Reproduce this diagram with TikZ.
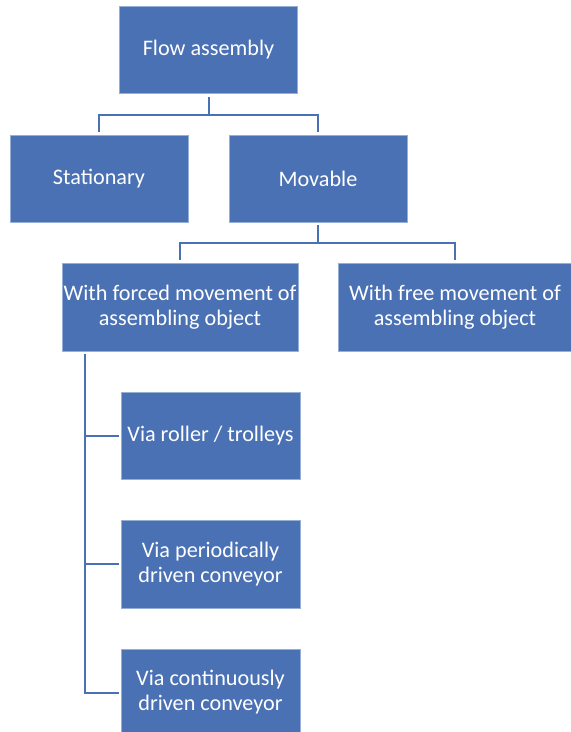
\documentclass[tikz,border=0pt]{standalone}
\usepackage{fontspec}
\setmainfont{Carlito}
\definecolor{boxblue}{RGB}{74,113,180}
\definecolor{boxedge}{RGB}{150,175,215}
\begin{document}
\begin{tikzpicture}[x=1pt,y=-1pt,
  box/.style={rectangle, fill=boxblue, draw=boxedge, line width=0.6pt,
    text=white, align=center, inner sep=0pt,
    font=\fontsize{22.2}{25}\selectfont},
  conn/.style={draw=boxblue, line width=2pt}]
  \useasboundingbox (0,0) rectangle (571,732);
  \begin{scope}
  \clip (0,0) rectangle (571,732);
  % tree nodes
  \node[box, minimum width=178pt, minimum height=87pt] (flow) at (208.5,50) {Flow assembly};
  \node[box, minimum width=178pt, minimum height=87pt] (stat) at (99,178.5) {Stationary};
  \node[box, minimum width=178pt, minimum height=87pt] (mov) at (318,178.5) {Movable};
  \node[box, minimum width=236pt, minimum height=88pt] (forced) at (180,307) {With forced movement of\\assembling object};
  \node[box, minimum width=233pt, minimum height=88pt] (free) at (455,307) {With free movement of\\assembling object};
  \node[box, minimum width=179pt, minimum height=87pt] (roller) at (210.5,435.5) {Via roller / trolleys};
  \node[box, minimum width=179pt, minimum height=88pt] (period) at (210.5,564) {Via periodically\\driven conveyor};
  \node[box, minimum width=179pt, minimum height=87pt] (cont) at (210.5,692.5) {Via continuously\\driven conveyor};
  \end{scope}
  % bus points of the elbow connectors
  \coordinate (bus1) at (208.5,115);
  \coordinate (bus2) at (318,243);
  \coordinate (trunk) at (84.5,0);
  \coordinate (trunktop) at ([yshift=-3pt]forced.south);
  % first level
  \draw[conn] ([yshift=-3pt]flow.south) -- (flow.south |- bus1);
  \draw[conn] ([yshift=3pt]stat.north) |- (bus1) -| ([yshift=3pt]mov.north);
  % second level
  \draw[conn] ([yshift=-3pt]mov.south) -- (mov.south |- bus2);
  \draw[conn] ([yshift=3pt]forced.north) |- (bus2) -| ([yshift=3pt]free.north);
  % side trunk to the conveyor variants
  \draw[conn] (trunk |- trunktop) |- ([xshift=-2pt]cont.west);
  \draw[conn] (trunk |- roller.west) -- ([xshift=-2pt]roller.west);
  \draw[conn] (trunk |- period.west) -- ([xshift=-2pt]period.west);
\end{tikzpicture}
\end{document}
